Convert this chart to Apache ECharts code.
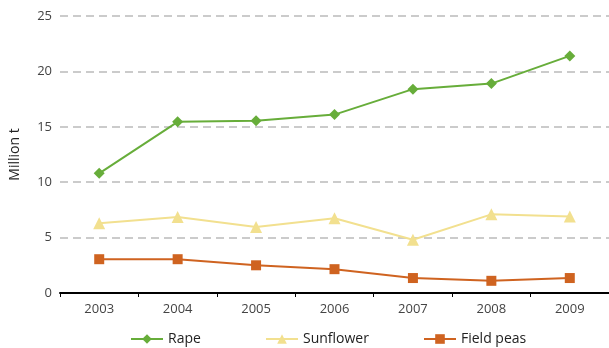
<!DOCTYPE html>
<html>
<head>
<meta charset="utf-8">
<script src="https://cdn.jsdelivr.net/npm/echarts@6/dist/echarts.min.js"></script>
<style>
    html, body { margin: 0; padding: 0; background: #fff; }
    #chart { width: 609px; height: 348px; }
</style>
</head>
<body>
<div id="chart"></div>
<script>
var years = ['2003', '2004', '2005', '2006', '2007', '2008', '2009'];
var rape = [10.8, 15.45, 15.55, 16.1, 18.4, 18.9, 21.4];
var sunflower = [6.3, 6.85, 5.95, 6.75, 4.8, 7.1, 6.9];
var fieldPeas = [3.05, 3.05, 2.5, 2.15, 1.35, 1.1, 1.35];

var fontFamily = 'Open Sans, Noto Sans, sans-serif';

function genSeries(name, data, color, symbol, size) {
    return {
        name: name,
        type: 'line',
        data: data,
        symbol: symbol,
        symbolSize: size,
        lineStyle: { color: color, width: 2 },
        itemStyle: { color: color },
        emphasis: { disabled: true }
    };
}

function genLegend(name, left) {
    return {
        data: [name],
        left: left,
        top: 327,
        itemWidth: 32,
        itemHeight: 12,
        itemGap: 10,
        textStyle: { fontFamily: fontFamily, fontSize: 14, color: '#222' }
    };
}

var chart = echarts.init(document.getElementById('chart'));
chart.setOption({
    animation: false,
    grid: { left: 58, right: 0, top: 16, bottom: 55 },
    legend: [
        genLegend('Rape', 125),
        genLegend('Sunflower', 260),
        genLegend('Field peas', 418)
    ],
    xAxis: {
        type: 'category',
        data: years,
        boundaryGap: true,
        axisLine: { lineStyle: { color: '#000', width: 2 } },
        axisTick: { show: true, length: 4, lineStyle: { color: '#000', width: 1 } },
        axisLabel: { fontFamily: fontFamily, fontSize: 13, color: '#444', margin: 10 }
    },
    yAxis: {
        type: 'value',
        min: 0,
        max: 25,
        interval: 5,
        name: 'Million t',
        nameLocation: 'middle',
        nameGap: 38,
        nameTextStyle: { fontFamily: fontFamily, fontSize: 14, color: '#222' },
        axisLine: { show: false },
        axisTick: { show: false },
        axisLabel: { fontFamily: fontFamily, fontSize: 13, color: '#444', margin: 8 },
        splitLine: { lineStyle: { color: '#bbb', width: 1.5, type: [8, 5] } }
    },
    series: [
        genSeries('Rape', rape, '#67ad3a', 'diamond', 11),
        genSeries('Sunflower', sunflower, '#f2e08f', 'triangle', 12),
        genSeries('Field peas', fieldPeas, '#cf6320', 'rect', 10)
    ]
});
</script>
</body>
</html>
